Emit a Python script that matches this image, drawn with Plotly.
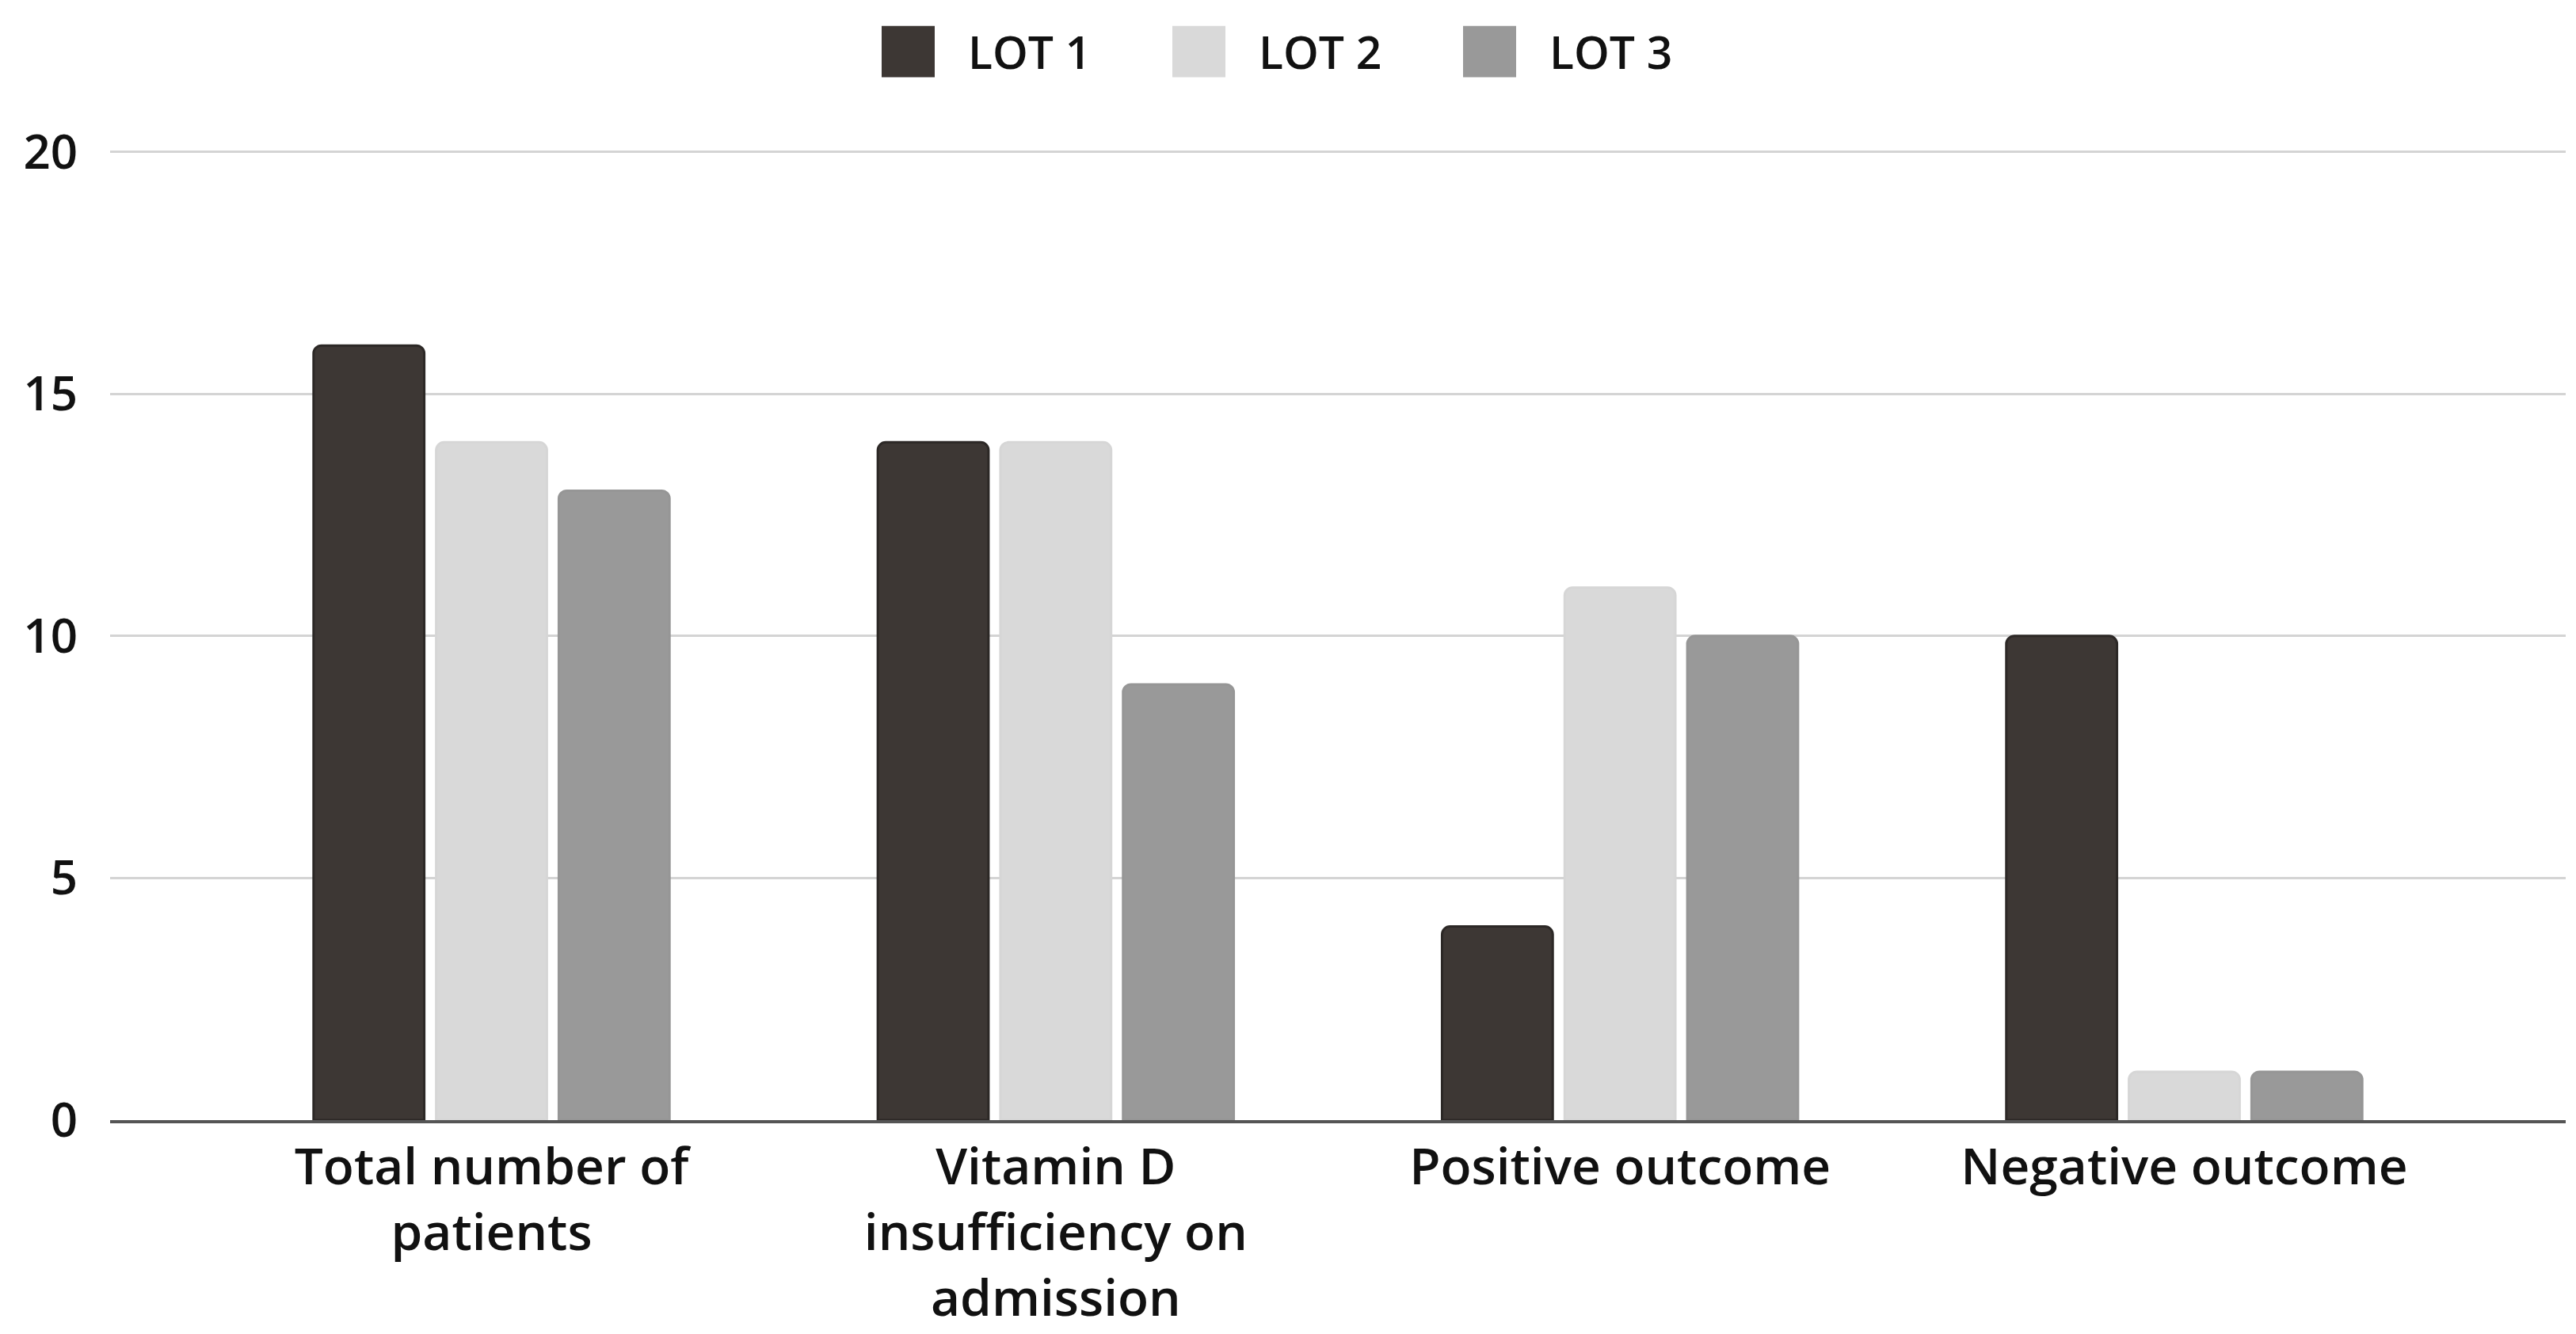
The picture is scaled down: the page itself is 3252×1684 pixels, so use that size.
import plotly.graph_objects as go

categories = ["Total number of<br>patients", "Vitamin D<br>insufficiency on<br>admission",
              "Positive outcome", "Negative outcome"]
series_names = ["LOT 1", "LOT 2", "LOT 3"]
lot1 = [16, 14, 4, 10]
lot2 = [14, 14, 11, 1]
lot3 = [13, 9, 10, 1]
y_ticks = [0, 5, 10, 15, 20]

colors = ["#3d3734", "#d9d9d9", "#999999"]
line_colors = ["#2c2826", "#d6d6d6", "#969696"]

W, H = 3252, 1684
ML, MR, MT, MB = 131, 21, 180, 272
Y_TOP = 20.06

fig = go.Figure()
for name, vals, c, lc in zip(series_names, [lot1, lot2, lot3], colors, line_colors):
    fig.add_trace(go.Bar(
        x=list(range(len(categories))), y=vals, name=name,
        marker=dict(color=c, line=dict(color=lc, width=3)),
        showlegend=False,
    ))

# manual legend (large square swatches like the reference)
pw, ph = W - ML - MR, H - MT - MB
def px_to_paper_x(px):
    return (px - ML) / pw
def py_to_paper_y(py):
    return (H - MB - py) / ph

start_x, step_x, sq_w, sq_top, sq_bot, text_gap = 1105, 367, 67, 24, 89, 40
for i, (name, c) in enumerate(zip(series_names, colors)):
    x0 = start_x + i * step_x
    fig.add_shape(type="rect", xref="paper", yref="paper",
                  x0=px_to_paper_x(x0), x1=px_to_paper_x(x0 + sq_w),
                  y0=py_to_paper_y(sq_bot), y1=py_to_paper_y(sq_top),
                  fillcolor=c, line=dict(width=0), layer="above")
    fig.add_annotation(xref="paper", yref="paper",
                       x=px_to_paper_x(x0 + sq_w + text_gap),
                       y=py_to_paper_y((sq_top + sq_bot) / 2),
                       text=name, showarrow=False, xanchor="left", yanchor="middle",
                       font=dict(family="Open Sans", size=57, weight=600, color="#111111"))

fig.update_layout(
    width=W, height=H,
    margin=dict(l=ML, r=MR, t=MT, b=MB),
    paper_bgcolor="white", plot_bgcolor="white",
    barmode="group", bargap=0.348, bargroupgap=0.097,
    barcornerradius=10,
    showlegend=False,
)
fig.update_xaxes(
    range=[-0.676, 3.676],
    tickmode="array", tickvals=list(range(len(categories))), ticktext=categories,
    showgrid=False, zeroline=False,
    showline=True, linecolor="#555555", linewidth=4,
    ticks="", ticklabelstandoff=0,
    tickfont=dict(family="Open Sans", size=64, weight=600, color="#111111"),
)
fig.update_yaxes(
    range=[0, Y_TOP], tickmode="array", tickvals=y_ticks,
    showgrid=True, gridcolor="#d4d4d4", gridwidth=3,
    zeroline=False, showline=False, ticks="",
    ticklabelstandoff=40,
    tickfont=dict(family="Open Sans", size=60, weight=600, color="#111111"),
)

fig.write_html("out.html")
